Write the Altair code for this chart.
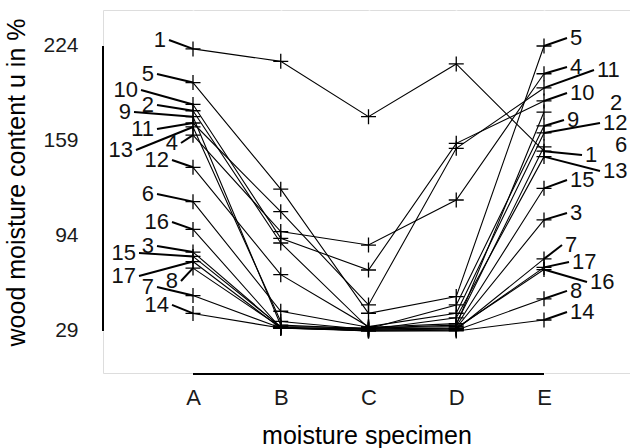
import json
import altair as alt
import pandas as pd

# ---------------- data ----------------
categories = ["A", "B", "C", "D", "E"]
specimens = [str(i) for i in range(1, 18)]

moist_A = [222, 179.7, 83, 163, 199, 117.5, 53.2, 72, 175.6, 184, 171.3, 141, 168.6, 41, 80, 98.5, 76.5]
moist_B = [213.5, 89.2, 31.5, 97, 126, 42.5, 31, 31.5, 33, 92.4, 110.6, 67.5, 35.5, 31, 32, 31, 30.8]
moist_C = [175.6, 31, 30, 87.8, 41.1, 31.5, 29.5, 29, 30.5, 70.7, 46.8, 32, 30, 29, 31, 30.5, 29.5]
moist_D = [211.7, 33, 31, 118.6, 52.5, 34, 30, 29.5, 46.8, 157.4, 154, 41.1, 38, 29, 32, 31, 30.5]
moist_E = [152, 178.8, 105, 205, 224, 155, 78.3, 51, 169.3, 186.4, 195.3, 164.5, 148.3, 36.5, 126.6, 71, 72.5]

y_ticks = [29, 94, 159, 224]

# label placement (repel-style annotation layout)
left_label_y = [228.1, 183.6, 87.2, 157.6, 204.8, 122.7, 59.1, 63.2, 178.8, 193.9, 167.2, 146, 152.8, 46.8, 82.4, 103.6, 66.6]
left_label_dx = [-27, -39, -39, -15, -39, -39, -39, -15, -62, -55, -39, -24, -60, -24, -57, -24, -57]
right_label_y = [149.4, 185, 109.7, 209.6, 229.5, 156.3, 87.8, 56.4, 173.4, 191.8, 207.6, 171.3, 138.5, 42, 132.3, 62.5, 76.2]
right_label_dx = [41, 66, 26, 26, 26, 71, 21, 26, 23, 26, 53, 59, 59, 26, 26, 46, 28]
right_leader = [True, False, True, True, True, False, True, True, True, True, True, True, True, True, True, True, True]

# ---------------- layout ----------------
W, H = 527, 363
STEP = 87.75
x0 = -90 / STEP
x1 = x0 + W / STEP
FONT = "Liberation Sans"

series = [moist_A, moist_B, moist_C, moist_D, moist_E]
rows = []
for ci, vals in enumerate(series):
    for s, v in zip(specimens, vals):
        rows.append({"spec": s, "x": ci, "y": v})
pts = pd.DataFrame(rows)

all_vals = [v for vals in series for v in vals]
ymin, ymax = min(all_vals), max(all_vals)

left_rows, right_rows = [], []
for i, s in enumerate(specimens):
    left_rows.append({
        "spec": s, "x": left_label_dx[i] / STEP, "y": left_label_y[i],
        "lx": (left_label_dx[i] + 3) / STEP, "ly": left_label_y[i],
        "px": 0, "py": moist_A[i], "show": True,
    })
    right_rows.append({
        "spec": s, "x": 4 + right_label_dx[i] / STEP, "y": right_label_y[i],
        "lx": 4 + (right_label_dx[i] - 3) / STEP, "ly": right_label_y[i],
        "px": 4, "py": moist_E[i], "show": right_leader[i],
    })
left_df = pd.DataFrame(left_rows)
right_df = pd.DataFrame(right_rows)
leader_df = pd.concat([left_df, right_df])
leader_df = leader_df[leader_df["show"]]

xaxis = alt.Axis(
    values=list(range(len(categories))),
    labelExpr=json.dumps(categories) + "[datum.value]",
    grid=True, gridColor="white", gridWidth=1.6,
    domain=False, ticks=False, labelPadding=14, labelFontSize=22,
    labelColor="#1a1a1a", title="moisture specimen", titleFontSize=25,
    titleFontWeight="normal", titleColor="black", titlePadding=15,
)
yaxis = alt.Axis(
    values=y_ticks, grid=True, gridColor="white", gridWidth=1.6,
    domain=False, ticks=False, labelPadding=25, labelFontSize=21,
    labelColor="#1a1a1a", title="wood moisture content u in %",
    titleFontSize=25, titleFontWeight="normal", titleColor="black",
    titlePadding=13, titleY=172,
)
xs = alt.Scale(domain=[x0, x1], nice=False, zero=False)
ysc = alt.Scale(domain=[0.23, 248.63], nice=False, zero=False)
X = alt.X("x:Q", scale=xs, axis=xaxis)
Y = alt.Y("y:Q", scale=ysc, axis=yaxis)

lines = alt.Chart(pts).mark_line(color="black", strokeWidth=1.1).encode(
    x=X, y=Y, detail="spec:N", order="x:Q"
)
points = alt.Chart(pts).mark_point(
    shape="M-1,0L1,0M0,-1L0,1", size=225, filled=False, color="black",
    strokeWidth=1.3, opacity=1,
).encode(x=X, y=Y)

leaders = alt.Chart(leader_df).mark_rule(color="black", strokeWidth=2).encode(
    x=alt.X("lx:Q", scale=xs, axis=xaxis), y=alt.Y("ly:Q", scale=ysc, axis=yaxis),
    x2="px:Q", y2="py:Q",
)
left_text = alt.Chart(left_df).mark_text(
    align="right", baseline="middle", fontSize=22, color="#111", font=FONT
).encode(x=X, y=Y, text="spec:N")
right_text = alt.Chart(right_df).mark_text(
    align="left", baseline="middle", fontSize=22, color="#111", font=FONT
).encode(x=X, y=Y, text="spec:N")

frame_y = alt.Chart(pts).mark_rule(color="black", strokeWidth=2).encode(
    x=alt.value(0), y=alt.datum(ymin), y2=alt.datum(ymax)
)
frame_x = alt.Chart(pts).mark_rule(color="black", strokeWidth=2).encode(
    y=alt.value(H + 1), x=alt.datum(0), x2=alt.datum(len(categories) - 1)
)

chart = alt.layer(
    lines, points, leaders, left_text, right_text, frame_y, frame_x
).properties(
    width=W, height=H,
    autosize=alt.AutoSizeParams(type="none"),
    padding={"left": 103, "top": 10, "right": 0, "bottom": 75},
).configure_view(
    fill="#EBECEB", strokeWidth=0
).configure(font=FONT)

chart.save("out.html", embed_options={"renderer": "svg", "actions": False})
